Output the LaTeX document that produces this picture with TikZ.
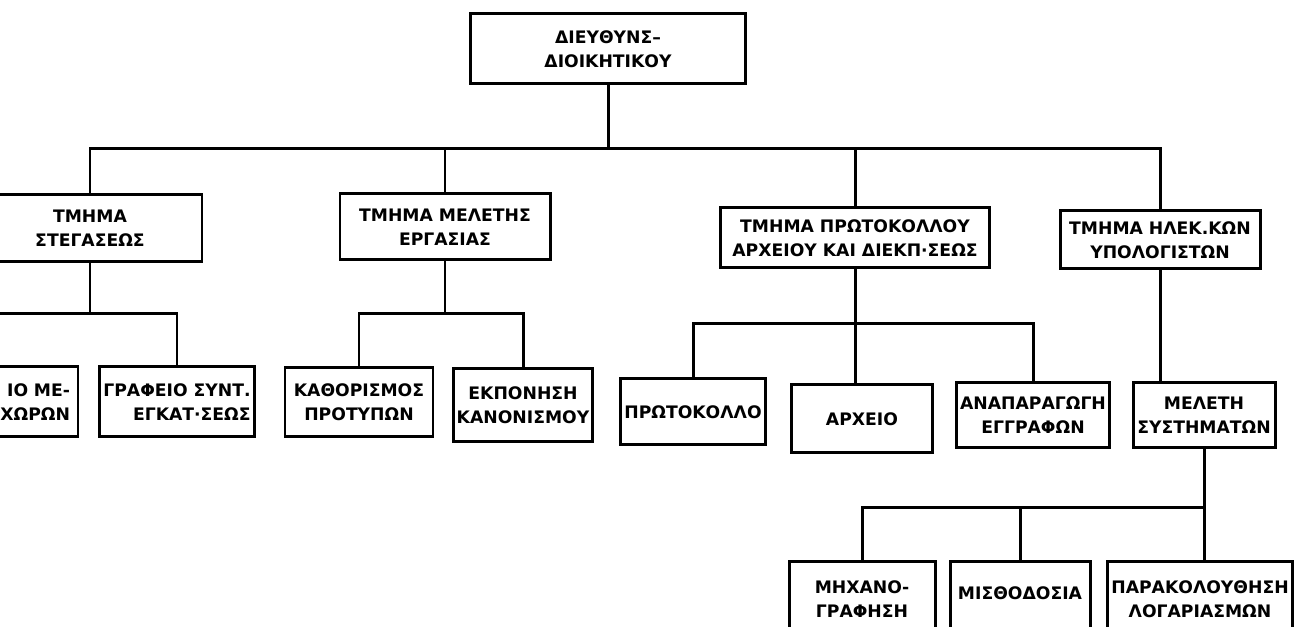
\documentclass[tikz,border=0pt]{standalone}
\usepackage{fontspec}
\setmainfont{DejaVu Sans}
\begin{document}
\begin{tikzpicture}[line width=0.85pt,
  box/.style={draw,align=center,inner ysep=0pt,inner xsep=1pt,font=\fontsize{4.9}{6.8}\selectfont\bfseries},
  low/.style={box,anchor=north,text depth=1cm,inner ysep=0.19cm}]
\useasboundingbox (0,0) rectangle (12.99,6.27);
\clip (0,0) rectangle (12.99,6.27);
%director
\node[box,minimum width=2.75cm,minimum height=0.70cm] (dir) at (6.08,5.78) {ΔΙΕΥΘΥΝΣ–\\ΔΙΟΙΚΗΤΙΚΟΥ};
%departments
\node[box,minimum width=2.24cm,minimum height=0.67cm] (st) at (0.90,3.99) {ΤΜΗΜΑ\\ΣΤΕΓΑΣΕΩΣ};
\node[box,minimum width=2.10cm,minimum height=0.66cm] (me) at (4.45,4.00) {ΤΜΗΜΑ ΜΕΛΕΤΗΣ\\ΕΡΓΑΣΙΑΣ};
\node[box,minimum width=2.69cm,minimum height=0.60cm] (pr) at (8.55,3.89) {ΤΜΗΜΑ ΠΡΩΤΟΚΟΛΛΟΥ\\ΑΡΧΕΙΟΥ ΚΑΙ ΔΙΕΚΠ·ΣΕΩΣ};
\node[box,minimum width=2.00cm,minimum height=0.58cm] (hl) at (11.60,3.87) {ΤΜΗΜΑ ΗΛΕΚ.ΚΩΝ\\ΥΠΟΛΟΓΙΣΤΩΝ};
%offices
\node[box,text width=1.9cm,align=right,inner xsep=0.08cm,minimum height=0.70cm] (gm) at (-0.25,2.25) {ΙΟ ΜΕ-\\ΧΩΡΩΝ};
\node[box,align=right,minimum width=1.49cm,minimum height=0.70cm] (gs) at (1.77,2.25) {ΓΡΑΦΕΙΟ ΣΥΝΤ.\\ΕΓΚΑΤ·ΣΕΩΣ};
\node[box,minimum width=1.48cm,minimum height=0.69cm] (kp) at (3.59,2.245) {ΚΑΘΟΡΙΣΜΟΣ\\ΠΡΟΤΥΠΩΝ};
\node[box,minimum width=1.36cm,minimum height=0.73cm] (ek) at (5.23,2.22) {ΕΚΠΟΝΗΣΗ\\ΚΑΝΟΝΙΣΜΟΥ};
\node[box,minimum width=1.43cm,minimum height=0.66cm] (pk) at (6.93,2.15) {ΠΡΩΤΟΚΟΛΛΟ};
\node[box,minimum width=1.41cm,minimum height=0.68cm] (ar) at (8.62,2.08) {ΑΡΧΕΙΟ};
\node[box,minimum width=1.50cm,minimum height=0.65cm] (an) at (10.33,2.115) {ΑΝΑΠΑΡΑΓΩΓΗ\\ΕΓΓΡΑΦΩΝ};
\node[box,minimum width=1.42cm,minimum height=0.65cm] (ms) at (12.04,2.115) {ΜΕΛΕΤΗ\\ΣΥΣΤΗΜΑΤΩΝ};
%bottom row
\node[low,minimum width=1.46cm] (mx) at (8.62,0.67) {ΜΗΧΑΝΟ-\\ΓΡΑΦΗΣΗ};
\node[low,minimum width=1.40cm,inner ysep=0.25cm] (mi) at (10.20,0.67) {ΜΙΣΘΟΔΟΣΙΑ};
\node[low,minimum width=1.66cm] (pa) at (12.00,0.67) {ΠΑΡΑΚΟΛΟΥΘΗΣΗ\\ΛΟΓΑΡΙΑΣΜΩΝ};
%lines
\path (dir.south) ++(0,-0.63) coordinate (bus);
\draw (dir.south) -- (bus);
\draw (st.north) |- (bus) -| (hl.north);
\foreach \n in {me,pr}{\draw (\n.north) -- (\n.north |- bus);}
\path (st.south) ++(0,-0.505) coordinate (stbus);
\draw (st.south) -- (stbus);
\draw (gm.north) |- (stbus) -| (gs.north);
\path (me.south) ++(0,-0.52) coordinate (mebus);
\draw (me.south) -- (mebus);
\draw (kp.north) |- (mebus) -| (ek.north);
\path (pr.south) ++(0,-0.54) coordinate (prbus);
\draw (pr.south) -- (pr.south |- ar.north);
\draw (pk.north) |- (prbus) -| (an.north);
\draw (hl.south) -- (hl.south |- ms.north);
\path (ms.south) ++(0,-0.58) coordinate (msbus);
\draw (ms.south) -- (ms.south |- pa.north);
\draw (mx.north) |- (msbus);
\draw (mi.north) -- (mi.north |- msbus);
\end{tikzpicture}
\end{document}
